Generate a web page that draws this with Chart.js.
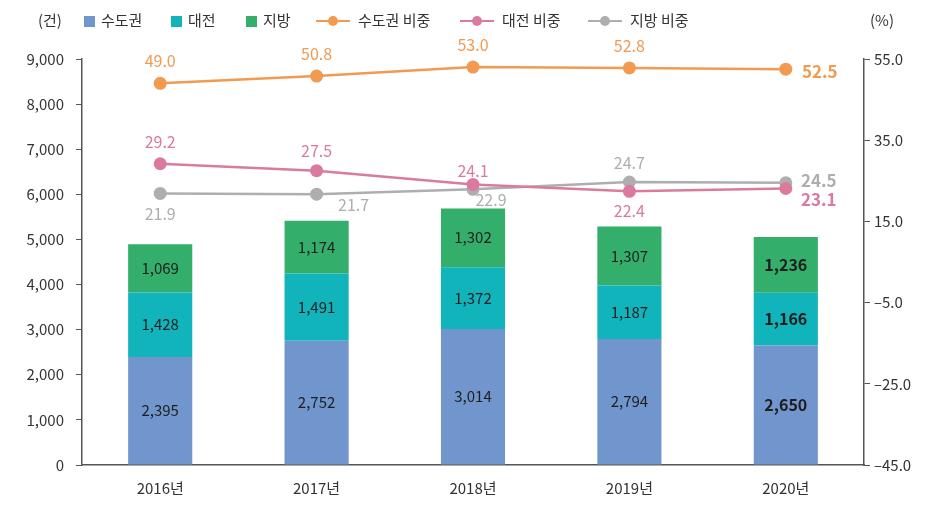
<!DOCTYPE html>
<html>
<head>
<meta charset="utf-8">
<script src="https://cdn.jsdelivr.net/npm/chart.js@4/dist/chart.umd.min.js"></script>
<style>
  body { margin: 0; background: #fff; }
  #wrap { position: relative; width: 941px; height: 512px; font-family: "Noto Sans CJK KR", "Noto Sans", sans-serif; }
  canvas { position: absolute; left: 0; top: 0; }
  .lg { position: absolute; top: 8px; font-size: 15px; color: #333; line-height: 24px; white-space: nowrap; }
  .sq { display: inline-block; width: 11px; height: 11px; margin-right: 6px; vertical-align: -1px; }
  .ln { display: inline-block; position: relative; width: 34px; height: 12px; margin-right: 8px; vertical-align: -1px; }
  .ln i { position: absolute; left: 0; right: 0; top: 5px; height: 2px; }
  .ln b { position: absolute; left: 12px; top: 1px; width: 10px; height: 10px; border-radius: 50%; }
</style>
</head>
<body>
<div id="wrap">
  <canvas id="chart" width="941" height="512"></canvas>
  <div class="lg" style="left:38px">(건)</div>
  <div class="lg" style="left:84px"><span class="sq" style="background:#7196CD"></span>수도권</div>
  <div class="lg" style="left:171px"><span class="sq" style="background:#12B4BC"></span>대전</div>
  <div class="lg" style="left:246px"><span class="sq" style="background:#33AF6B"></span>지방</div>
  <div class="lg" style="left:316px"><span class="ln"><i style="background:#F29A50"></i><b style="background:#F29A50"></b></span>수도권 비중</div>
  <div class="lg" style="left:460px"><span class="ln"><i style="background:#DB7A9E"></i><b style="background:#DB7A9E"></b></span>대전 비중</div>
  <div class="lg" style="left:588px"><span class="ln"><i style="background:#AEAEAE"></i><b style="background:#AEAEAE"></b></span>지방 비중</div>
  <div class="lg" style="left:870px">(%)</div>
</div>
<script>
const years = ["2016년", "2017년", "2018년", "2019년", "2020년"];
const capital = [2395, 2752, 3014, 2794, 2650];
const daejeon = [1428, 1491, 1372, 1187, 1166];
const regional = [1069, 1174, 1302, 1307, 1236];
const capitalShare = [49.0, 50.8, 53.0, 52.8, 52.5];
const daejeonShare = [29.2, 27.5, 24.1, 22.4, 23.1];
const regionalShare = [21.9, 21.7, 22.9, 24.7, 24.5];
const leftTicks = [0, 1000, 2000, 3000, 4000, 5000, 6000, 7000, 8000, 9000];
const rightTicks = [-45, -25, -5, 15, 35, 55];

const FONT = "Noto Sans CJK KR";

// label offsets for the share lines: [dx, dy]
const lineLabelPos = {
  3: [[0, -22], [0, -22], [0, -22], [0, -22], [34, 2]],
  4: [[0, -22], [0, -20], [0, -14], [0, 20], [33, 11]],
  5: [[0, 21], [37, 11], [18, 11], [0, -19], [33, -2]]
};

const labelPlugin = {
  id: "labels",
  afterDatasetsDraw(chart){
    const ctx = chart.ctx;
    ctx.save();
    ctx.textAlign = "center";
    ctx.textBaseline = "middle";
    chart.data.datasets.forEach((ds, di) => {
      const meta = chart.getDatasetMeta(di);
      meta.data.forEach((el, i) => {
        const v = ds.data[i];
        if (ds.type === "line"){
          const off = lineLabelPos[di][i];
          const last = i === ds.data.length - 1;
          ctx.font = (last ? "bold 17px " : "16px ") + FONT;
          ctx.fillStyle = ds.borderColor;
          ctx.fillText(v.toFixed(1), el.x + off[0], el.y + off[1]);
        } else {
          const last = i === ds.data.length - 1;
          ctx.font = (last ? "bold 16px " : "15px ") + FONT;
          ctx.fillStyle = "#1e1e1e";
          ctx.fillText(v.toLocaleString("en-US"), el.x, (el.y + el.base) / 2);
        }
      });
    });
    ctx.restore();
  }
};

function lineDs(label, data, color){
  return {
    type: "line", label, data, yAxisID: "y1",
    borderColor: color, backgroundColor: color,
    borderWidth: 2.5, pointRadius: 6.5, pointHoverRadius: 6.5,
    pointBorderWidth: 0, tension: 0, order: 1
  };
}

function barDs(label, data, color){
  return {
    type: "bar", label, data, yAxisID: "y",
    backgroundColor: color, order: 2,
    categoryPercentage: 1, barPercentage: 0.41
  };
}

new Chart(document.getElementById("chart"), {
  data: {
    labels: years,
    datasets: [
      barDs("수도권", capital, "#7196CD"),
      barDs("대전", daejeon, "#12B4BC"),
      barDs("지방", regional, "#33AF6B"),
      lineDs("수도권 비중", capitalShare, "#F29A50"),
      lineDs("대전 비중", daejeonShare, "#DB7A9E"),
      lineDs("지방 비중", regionalShare, "#AEAEAE")
    ]
  },
  options: {
    responsive: false,
    animation: false,
    events: [],
    layout: { padding: { top: 59, left: 0, right: 0, bottom: 0 } },
    plugins: { legend: { display: false }, tooltip: { enabled: false } },
    scales: {
      x: {
        stacked: true,
        grid: { display: true, drawOnChartArea: false, drawTicks: false },
        border: { color: "#555", width: 1.5 },
        ticks: { color: "#333", font: { family: FONT, size: 15 }, padding: 14 },
        afterFit: s => { s.height = 47; }
      },
      y: {
        stacked: true, position: "left",
        min: 0, max: 9000,
        afterBuildTicks: s => { s.ticks = leftTicks.map(v => ({ value: v })); },
        grid: { drawOnChartArea: false, drawTicks: true, tickLength: 6, color: "#555" },
        border: { color: "#555", width: 1.5 },
        ticks: { color: "#333", font: { family: FONT, size: 15 }, padding: 12,
          callback: v => v.toLocaleString("en-US") },
        afterFit: s => { s.width = 82; }
      },
      y1: {
        position: "right",
        min: -45, max: 55,
        afterBuildTicks: s => { s.ticks = rightTicks.map(v => ({ value: v })); },
        grid: { drawOnChartArea: false, drawTicks: true, tickLength: 6, color: "#555" },
        border: { color: "#555", width: 1.5 },
        ticks: { color: "#333", font: { family: FONT, size: 15 }, padding: 4,
          callback: v => v.toFixed(1).replace("-", "–") },
        afterFit: s => { s.width = 77; }
      }
    }
  },
  plugins: [labelPlugin]
});
</script>
</body>
</html>
